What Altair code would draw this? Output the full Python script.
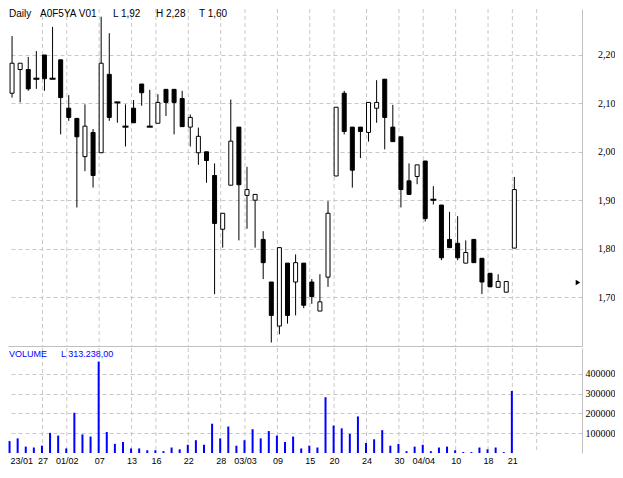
import json
import altair as alt
import pandas as pd

# ---- data ----
opens = [2.121, 2.170, 2.170, 2.151, 2.200, 2.151, 2.190, 2.090, 2.069, 1.990,
         2.040, 1.998, 2.160, 2.102, 2.052, 2.090, 2.140, 2.052, 2.059, 2.129,
         2.129, 2.110, 2.051, 1.998, 2.000, 1.951, 1.840, 1.931, 2.051, 1.910,
         1.900, 1.819, 1.731, 1.640, 1.770, 1.731, 1.770, 1.731, 1.671, 1.741,
         1.950, 2.121, 2.051, 2.051, 2.040, 2.090, 2.150, 2.051, 2.031, 1.940,
         1.949, 1.981, 1.901, 1.890, 1.819, 1.811, 1.770, 1.819, 1.780, 1.749,
         1.720, 1.710, 1.801]
highs = [2.239, 2.183, 2.196, 2.208, 2.200, 2.258, 2.190, 2.117, 2.069, 2.098,
         2.047, 2.279, 2.245, 2.102, 2.098, 2.107, 2.140, 2.128, 2.119, 2.129,
         2.129, 2.126, 2.077, 2.050, 2.000, 1.976, 1.873, 2.108, 2.051, 1.969,
         1.912, 1.836, 1.731, 1.802, 1.770, 1.788, 1.770, 1.737, 1.747, 1.898,
         2.092, 2.126, 2.051, 2.051, 2.102, 2.148, 2.150, 2.097, 2.031, 1.976,
         1.973, 1.981, 1.929, 1.890, 1.876, 1.867, 1.817, 1.819, 1.780, 1.749,
         1.747, 1.732, 1.948]
lows = [2.112, 2.102, 2.126, 2.130, 2.126, 2.151, 2.036, 2.064, 1.885, 1.960,
        1.926, 1.998, 2.064, 2.060, 2.011, 2.060, 2.095, 2.052, 2.059, 2.074,
        2.036, 2.052, 2.011, 1.973, 1.936, 1.706, 1.802, 1.931, 1.817, 1.841,
        1.802, 1.737, 1.606, 1.623, 1.645, 1.662, 1.677, 1.686, 1.671, 1.721,
        1.950, 2.036, 1.926, 1.987, 2.021, 2.060, 2.005, 2.021, 1.885, 1.912,
        1.933, 1.856, 1.891, 1.776, 1.802, 1.776, 1.770, 1.771, 1.706, 1.721,
        1.720, 1.710, 1.801]
closes = [2.183, 2.183, 2.130, 2.151, 2.151, 2.151, 2.112, 2.071, 2.031, 2.053,
          1.951, 2.183, 2.071, 2.102, 2.052, 2.060, 2.122, 2.052, 2.102, 2.102,
          2.102, 2.052, 2.071, 2.032, 1.982, 1.852, 1.873, 2.022, 1.932, 1.922,
          1.912, 1.771, 1.662, 1.802, 1.662, 1.771, 1.683, 1.701, 1.690, 1.873,
          2.092, 2.042, 1.962, 2.042, 2.102, 2.102, 2.071, 2.021, 1.922, 1.912,
          1.973, 1.862, 1.901, 1.781, 1.802, 1.781, 1.792, 1.771, 1.731, 1.721,
          1.732, 1.732, 1.922]
volumes = [60000, 73800, 32300, 27700, 36900, 101500, 87700, 23000, 203000, 93800,
           83000, 461500, 106000, 46000, 55400, 23000, 23000, 13800, 13800, 9200,
           27700, 18500, 41500, 64600, 41500, 147700, 73800, 133800, 36900, 64600,
           120000, 73800, 110700, 87700, 55400, 83000, 23000, 36900, 27700, 281500,
           138500, 124600, 96900, 184600, 50800, 69200, 115400, 36900, 46000, 9200,
           32300, 41500, 9200, 27700, 32300, 13800, 4600, 4600, 27700, 18500,
           27700, 4600, 313238]
tick_idx = [0, 4, 7, 11, 15, 18, 22, 26, 29, 33, 37, 40, 44, 48, 51, 55, 59, 62, 65]
tick_lbl = ["23/01", "27", "01/02", "07", "13", "16", "22", "28", "03/03", "09",
            "15", "20", "24", "30", "04/04", "10", "18", "21", ""]
price_ticks = [1.7, 1.8, 1.9, 2.0, 2.1, 2.2]
vol_ticks = [100000, 200000, 300000, 400000]
prev_close_marker = 1.73
header_txt = ["Daily", "A0F5YA V01", "L 1,92", "H 2,28", "T 1,60"]
vol_header_txt = ["VOLUME", "L 313.238,00"]

# ---- table ----
df = pd.DataFrame({"i": list(range(len(opens))), "open": opens, "high": highs,
                   "low": lows, "close": closes, "volume": volumes})
df["up"] = df["close"] >= df["open"]
df["body_lo"] = df[["open", "close"]].min(axis=1)
df["body_hi"] = df[["open", "close"]].max(axis=1)
df["doji"] = df["open"] == df["close"]
grid_df = pd.DataFrame({"i": [t for t in tick_idx if t != tick_idx[0]]})

GRID = "#c8c8c8"
BORDER = "#c0c0c0"
SANS = "Liberation Sans"
SERIF = "Liberation Serif"
W = 574
xscale = alt.Scale(domain=[-0.5, 70.35], nice=False, zero=False, padding=0)

label_expr = "%s[indexof(%s, datum.value)]" % (json.dumps(tick_lbl), json.dumps(tick_idx))
first_left = {"condition": {"test": "datum.value == 0", "value": "left"}, "value": "center"}

# ---- price panel ----
x_price = alt.X("i:Q", scale=xscale, title=None,
                axis=alt.Axis(values=tick_idx, labels=False, ticks=False, tickSize=0,
                              domain=True, domainColor=BORDER, grid=False))
yscale = alt.Scale(domain=[1.5988, 2.2950], nice=False, zero=False, padding=0)
yaxis = alt.Axis(orient="right", values=price_ticks,
                 labelExpr="replace(format(datum.value, '.2f'), '.', ',')",
                 ticks=False, tickSize=0, labelPadding=33, labelAlign="right",
                 labelFont=SERIF, labelFontSize=10, labelColor="black",
                 domain=True, domainColor=BORDER, grid=True, gridColor=GRID,
                 gridDash=[4, 3])

base = alt.Chart(df)
vgrid_p = alt.Chart(grid_df).mark_rule(color=GRID, strokeDash=[4, 3], strokeWidth=1,
                                       xOffset=-2).encode(x=x_price)
wicks = base.mark_rule(color="black", strokeWidth=1).encode(
    x=x_price,
    y=alt.Y("low:Q", scale=yscale, axis=yaxis, title=None),
    y2="high:Q",
)
bodies = base.mark_bar(width=4, stroke="black", strokeWidth=1).encode(
    x=x_price,
    y=alt.Y("body_lo:Q", scale=yscale, axis=yaxis, title=None),
    y2="body_hi:Q",
    fill=alt.condition("datum.up", alt.value("white"), alt.value("black")),
)
dojis = base.transform_filter("datum.doji").mark_tick(
    orient="horizontal", size=6, thickness=2, color="black", opacity=1
).encode(
    x=x_price,
    y=alt.Y("close:Q", scale=yscale, axis=yaxis, title=None),
)
marker = alt.Chart(pd.DataFrame({"p": [prev_close_marker]})).mark_point(
    shape="triangle-right", filled=True, color="black", size=28, opacity=1
).encode(x=alt.value(570), y=alt.Y("p:Q", scale=yscale, axis=yaxis, title=None))

header_x = [1, 32, 105, 148, 191]
headers = [
    alt.Chart(pd.DataFrame({"t": [t]})).mark_text(
        align="left", baseline="middle", font=SANS, fontSize=10, color="black"
    ).encode(x=alt.value(hx), y=alt.value(5), text="t:N")
    for t, hx in zip(header_txt, header_x)
]

price = alt.layer(vgrid_p, wicks, bodies, dojis, marker, *headers).properties(width=W, height=337)

# ---- volume panel ----
x_vol = alt.X("i:Q", scale=xscale, title=None,
              axis=alt.Axis(values=tick_idx, labelExpr=label_expr, ticks=False, tickSize=0,
                            domain=False, grid=False,
                            tickOffset=-2, labelFont=SANS, labelFontSize=9,
                            labelColor="black", labelPadding=3, labelFlush=False,
                            labelAlign=first_left))
vgrid_v = alt.Chart(grid_df).mark_rule(color=GRID, strokeDash=[4, 3], strokeWidth=1,
                                       xOffset=-2).encode(x=x_vol)
vol_bars = base.mark_bar(width=2, color="#0000ff", xOffset=-2.5).encode(
    x=x_vol,
    y=alt.Y("volume:Q", scale=alt.Scale(domain=[0, 530000], nice=False, padding=0), title=None,
            axis=alt.Axis(orient="right", values=vol_ticks, format="d", ticks=False,
                          tickSize=0, labelPadding=33, labelAlign="right",
                          labelFont=SERIF, labelFontSize=10, labelColor="black",
                          domain=True, domainColor=BORDER, grid=True, gridColor=GRID,
                          gridDash=[4, 3])),
)
vol_header_x = [1, 53]
vol_headers = [
    alt.Chart(pd.DataFrame({"t": [t]})).mark_text(
        align="left", baseline="middle", font=SANS, fontSize=9, color="#0000ff"
    ).encode(x=alt.value(hx), y=alt.value(6), text="t:N")
    for t, hx in zip(vol_header_txt, vol_header_x)
]
vol = alt.layer(vgrid_v, vol_bars, *vol_headers).properties(width=W, height=105)

chart = alt.vconcat(price, vol, spacing=0).properties(
    padding={"left": 0, "top": 0, "right": 0, "bottom": 0},
    background="white",
).configure_view(stroke=None)

chart.save("out.html", embed_options={"renderer": "svg", "actions": False})
